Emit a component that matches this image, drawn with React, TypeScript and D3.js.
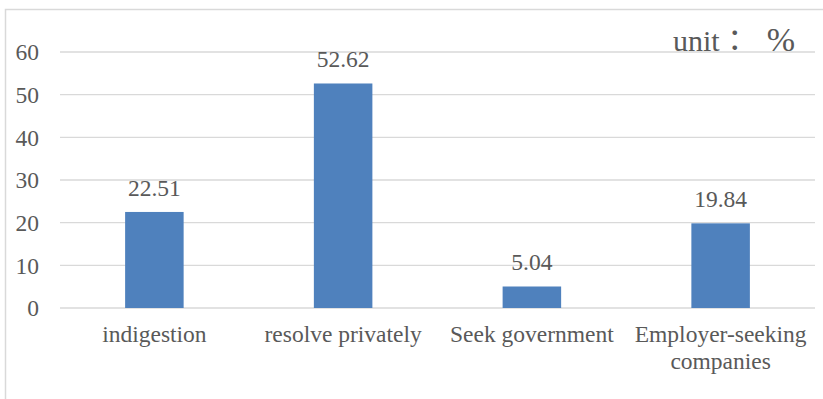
import React from "react";
import * as d3 from "d3";

const categories = ["indigestion", "resolve privately", "Seek government", "Employer-seeking companies"];
const categoryLines = [["indigestion"], ["resolve privately"], ["Seek government"], ["Employer-seeking", "companies"]];
const values = [22.51, 52.62, 5.04, 19.84];
const valueLabels = ["22.51", "52.62", "5.04", "19.84"];
const yTicks = [0, 10, 20, 30, 40, 50, 60];
const unitParts = ["unit：", "%"];

const W = 823;
const H = 399;
const left = 60;
const right = 815;
const top = 52;
const bottom = 308;
const font = "Liberation Serif";
const textColor = "#595959";

export default function App() {
  const x = d3.scaleBand<string>().domain(categories).range([left, right]).paddingInner(0.69).paddingOuter(0.345);
  const y = d3.scaleLinear().domain([0, 60]).range([bottom, top]);
  const ts = { fontFamily: font, fontSize: "23.5px", fill: textColor };
  const us = { ...ts, fontFamily: "'Liberation Serif', 'Noto Sans CJK TC'", fontSize: "30px" };
  return (
    <svg width={W} height={H} style={{ position: "absolute", left: 0, top: 0, background: "#fff" }}>
      <rect x={5.5} y={9.5} width={830} height={400} fill="#fff" stroke="#d9d9d9" strokeWidth={1.5} />
      {yTicks.map((t) => (
        <g key={t}>
          <line x1={left} x2={right} y1={y(t)} y2={y(t)} stroke="#d9d9d9" strokeWidth={1.3} />
          <text x={39} y={y(t)} dy="0.35em" textAnchor="end" style={ts}>
            {t}
          </text>
        </g>
      ))}
      {categories.map((c, i) => {
        const bx = x(c)!;
        const bw = x.bandwidth();
        const cx = bx + bw / 2;
        return (
          <g key={c}>
            <rect x={bx} y={y(values[i])} width={bw} height={y(0) - y(values[i])} fill="#4f81bd" />
            <text x={cx} y={y(values[i]) - 16} textAnchor="middle" style={ts}>
              {valueLabels[i]}
            </text>
            {categoryLines[i].map((ln, j) => (
              <text key={j} x={cx} y={342 + j * 27} textAnchor="middle" style={ts}>
                {ln}
              </text>
            ))}
          </g>
        );
      })}
      <text x={673} y={51} style={us}>{unitParts[0]}</text>
      <text x={795} y={51} textAnchor="end" style={{ ...us, fontSize: "34px" }}>{unitParts[1]}</text>
    </svg>
  );
}
